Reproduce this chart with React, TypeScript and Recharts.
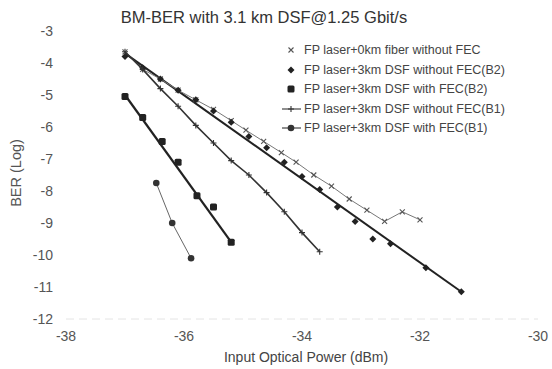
import React from 'react'
import { ScatterChart, Scatter, XAxis, YAxis } from 'recharts'

// FP laser + 0km fiber, no FEC
const fiber0Power = [-37.0, -36.7, -36.4, -36.1, -35.8, -35.5, -35.2, -34.95, -34.65, -34.35, -34.1, -33.8, -33.5, -33.2, -32.9, -32.6, -32.3, -32.0]
const fiber0Ber = [-3.65, -4.2, -4.5, -4.85, -5.15, -5.45, -5.8, -6.1, -6.45, -6.8, -7.1, -7.5, -7.85, -8.25, -8.6, -8.95, -8.65, -8.9]

// 3km DSF without FEC (B2)
const dsfB2Power = [-37.0, -36.7, -36.4, -36.1, -35.8, -35.5, -35.2, -34.9, -34.6, -34.3, -34.0, -33.7, -33.4, -33.1, -32.8, -32.5, -31.9, -31.3]
const dsfB2Ber = [-3.8, -4.15, -4.5, -4.85, -5.15, -5.5, -5.85, -6.3, -6.65, -7.1, -7.55, -7.95, -8.5, -8.95, -9.5, -9.65, -10.4, -11.15]
const dsfB2FitPower = [-37.0, -31.3]
const dsfB2FitBer = [-3.7, -11.15]

// 3km DSF with FEC (B2)
const fecB2Power = [-37.0, -36.7, -36.37, -36.1, -35.78, -35.5, -35.2]
const fecB2Ber = [-5.05, -5.7, -6.45, -7.1, -8.15, -8.5, -9.6]
const fecB2FitPower = [-37.0, -35.2]
const fecB2FitBer = [-5.0, -9.6]

// 3km DSF without FEC (B1)
const dsfB1Power = [-37.0, -36.7, -36.4, -36.1, -35.8, -35.5, -35.2, -34.9, -34.6, -34.3, -34.0, -33.7]
const dsfB1Ber = [-3.65, -4.2, -4.8, -5.35, -5.95, -6.5, -7.05, -7.5, -8.05, -8.65, -9.3, -9.9]

// 3km DSF with FEC (B1)
const fecB1Power = [-36.47, -36.2, -35.88]
const fecB1Ber = [-7.75, -9.0, -10.1]

const xTicks = [-38, -36, -34, -32, -30]
const yTicks = [-3, -4, -5, -6, -7, -8, -9, -10, -11, -12]

const legendLabels = [
  'FP laser+0km fiber without FEC',
  'FP laser+3km DSF without FEC(B2)',
  'FP laser+3km DSF with FEC(B2)',
  'FP laser+3km DSF without FEC(B1)',
  'FP laser+3km DSF with FEC(B1)',
]

const pts = (xs: number[], ys: number[]) => xs.map((x, i) => ({ x, y: ys[i] }))

const font = '"Liberation Sans", Arial, sans-serif'

const Cross = (p: any) => (
  <path d={`M${p.cx - 2.5},${p.cy - 2.5}L${p.cx + 2.5},${p.cy + 2.5}M${p.cx - 2.5},${p.cy + 2.5}L${p.cx + 2.5},${p.cy - 2.5}`} stroke="#555" strokeWidth={1.1} fill="none" />
)
const Diamond = (p: any) => (
  <path d={`M${p.cx},${p.cy - 3.5}L${p.cx + 3.5},${p.cy}L${p.cx},${p.cy + 3.5}L${p.cx - 3.5},${p.cy}Z`} fill="#222" />
)
const Blob = (p: any) => (
  <rect x={p.cx - 3.5} y={p.cy - 3.5} width={7} height={7} rx={1.5} fill="#222" />
)
const Star = (p: any) => (
  <path d={`M${p.cx - 3},${p.cy}L${p.cx + 3},${p.cy}M${p.cx},${p.cy - 3}L${p.cx},${p.cy + 3}`} stroke="#333" strokeWidth={1.1} fill="none" />
)
const Dot = (p: any) => <circle cx={p.cx} cy={p.cy} r={3.3} fill="#333" />
const NoMark = () => <g />

const LegendIcon = ({ i }: { i: number }) => {
  const c = 9
  return (
    <svg width={20} height={12} style={{ marginRight: 2 }}>
      {i >= 3 && <line x1={0} y1={6} x2={19} y2={6} stroke="#444" strokeWidth={1.2} />}
      {i === 0 && <Cross cx={c} cy={6} />}
      {i === 1 && <Diamond cx={c} cy={6} />}
      {i === 2 && <Blob cx={c} cy={6} />}
      {i === 3 && <Star cx={c} cy={6} />}
      {i === 4 && <Dot cx={c} cy={6} />}
    </svg>
  )
}

export default function App() {
  return (
    <div style={{ position: 'absolute', left: 0, top: 0, width: 552, height: 369, background: '#fff', fontFamily: font }}>
      <div style={{ position: 'absolute', left: 0, width: 552, top: 8, textAlign: 'center', fontSize: 16.5, color: '#333' }}>
        <span style={{ position: 'relative', left: -12 }}>BM-BER with 3.1 km DSF@1.25 Gbit/s</span>
      </div>
      <ScatterChart width={552} height={369} margin={{ top: 31, right: 14, bottom: 26, left: 0 }}>
        <XAxis
          type="number"
          dataKey="x"
          domain={[-38, -30]}
          ticks={xTicks}
          height={24}
          tickSize={0}
          tickMargin={12}
          axisLine={{ stroke: '#e4e4e4', strokeDasharray: '8 5' }}
          tickLine={false}
          tick={{ fill: '#555', fontSize: 14, fontFamily: font }}
        />
        <YAxis
          type="number"
          dataKey="y"
          domain={[-12, -3]}
          ticks={yTicks}
          width={66}
          tickSize={0}
          tickMargin={13}
          axisLine={false}
          tickLine={false}
          tick={{ fill: '#555', fontSize: 14, fontFamily: font }}
        />
        <Scatter data={pts(dsfB2FitPower, dsfB2FitBer)} line={{ stroke: '#222', strokeWidth: 2 }} shape={NoMark} isAnimationActive={false} />
        <Scatter data={pts(fecB2FitPower, fecB2FitBer)} line={{ stroke: '#222', strokeWidth: 2.2 }} shape={NoMark} isAnimationActive={false} />
        <Scatter data={pts(fiber0Power, fiber0Ber)} line={{ stroke: '#777', strokeWidth: 1 }} shape={Cross} isAnimationActive={false} />
        <Scatter data={pts(dsfB2Power, dsfB2Ber)} shape={Diamond} isAnimationActive={false} />
        <Scatter data={pts(fecB2Power, fecB2Ber)} shape={Blob} isAnimationActive={false} />
        <Scatter data={pts(dsfB1Power, dsfB1Ber)} line={{ stroke: '#333', strokeWidth: 1.6 }} shape={Star} isAnimationActive={false} />
        <Scatter data={pts(fecB1Power, fecB1Ber)} line={{ stroke: '#666', strokeWidth: 1 }} shape={Dot} isAnimationActive={false} />
      </ScatterChart>
      <div style={{ position: 'absolute', left: 16, top: 173, transform: 'translate(-50%, -50%) rotate(-90deg)', fontSize: 14.5, color: '#555', whiteSpace: 'nowrap' }}>
        BER (Log)
      </div>
      <div style={{ position: 'absolute', left: 306, top: 357, transform: 'translate(-50%, -50%)', fontSize: 14, color: '#444', whiteSpace: 'nowrap' }}>
        Input Optical Power (dBm)
      </div>
      {legendLabels.map((label, i) => (
        <div key={label} style={{ position: 'absolute', left: 282, top: 50 + i * 19.5 - 7, display: 'flex', alignItems: 'center', fontSize: 12.5, color: '#444', whiteSpace: 'nowrap', height: 14 }}>
          <LegendIcon i={i} />
          {label}
        </div>
      ))}
    </div>
  )
}
